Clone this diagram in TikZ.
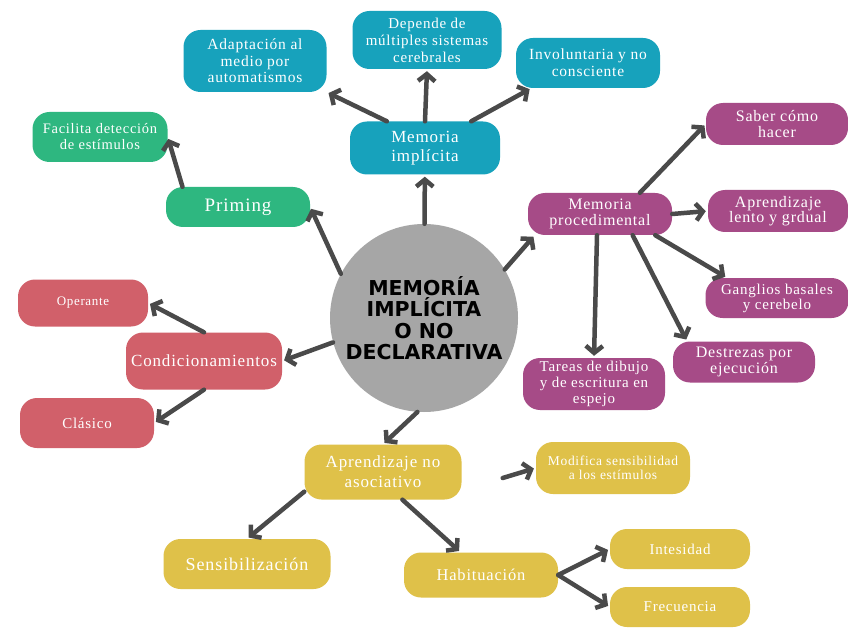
\documentclass[tikz,border=0pt]{standalone}
\usepackage{fontspec}
\setmainfont{Liberation Serif}[LetterSpace=5]
\newfontfamily\titulofont{DejaVu Sans}
\usetikzlibrary{arrows.meta}

\definecolor{cazul}{RGB}{23,162,188}
\definecolor{cmorado}{RGB}{166,75,135}
\definecolor{cverde}{RGB}{46,183,128}
\definecolor{crojo}{RGB}{209,96,106}
\definecolor{camarillo}{RGB}{223,193,73}
\definecolor{cgris}{RGB}{166,166,166}
\definecolor{cflecha}{RGB}{74,74,74}

\tikzset{
  caja/.style={rounded corners=17pt, align=center, text=white, inner sep=0pt},
  azul/.style={caja, fill=cazul},
  morado/.style={caja, fill=cmorado},
  verde/.style={caja, fill=cverde},
  rojo/.style={caja, fill=crojo},
  amarillo/.style={caja, fill=camarillo},
  flecha/.style={draw=cflecha, line width=4.5pt, line cap=round, line join=round,
    -{Straight Barb[length=7pt,width=17pt]}, shorten >=2pt},
}
\newcommand{\tam}[2]{\fontsize{#1}{#2}\selectfont}

\begin{document}
\begin{tikzpicture}[x=1pt,y=-1pt]
\useasboundingbox[fill=white] (0,0) rectangle (848,636);

\node[circle, fill=cgris, minimum size=188pt, inner sep=0pt, align=center,
  font=\titulofont\bfseries\tam{20.5}{21.5}] (centro) at (424,318)
  {MEMORÍA\\IMPLÍCITA\\O NO\\DECLARATIVA};

\node[azul, minimum width=150pt, minimum height=53pt, font=\tam{17}{19}] (impl) at (425,148) {Memoria\\implícita};
\node[azul, minimum width=143pt, minimum height=62pt, font=\tam{15.5}{16.5}] (adapt) at (255,61) {Adaptación al\\medio por\\automatismos};
\node[azul, minimum width=149pt, minimum height=58pt, font=\tam{15}{17}] (depende) at (427,40) {Depende de\\múltiples sistemas\\cerebrales};
\node[azul, minimum width=144pt, minimum height=50pt, font=\tam{15.5}{17}] (involun) at (588,63) {Involuntaria y no\\consciente};

\node[morado, minimum width=144pt, minimum height=42pt, font=\tam{16}{16}] (proced) at (600,214) {Memoria\\procedimental};
\node[morado, minimum width=142pt, minimum height=42pt, font=\tam{16}{16}] (saber) at (777,124) {Saber cómo\\hacer};
\node[morado, minimum width=140pt, minimum height=42pt, font=\tam{16}{15.5}] (lento) at (778,211) {Aprendizaje\\lento y grdual};
\node[morado, minimum width=143pt, minimum height=40pt, font=\tam{15}{15}] (ganglios) at (777,298) {Ganglios basales\\y cerebelo};
\node[morado, minimum width=142pt, minimum height=41pt, font=\tam{16}{16}] (destrezas) at (744,362) {Destrezas por\\ejecución};
\node[morado, minimum width=142pt, minimum height=52pt, font=\tam{15}{16}] (tareas) at (594,384) {Tareas de dibujo\\y de escritura en\\espejo};

\node[amarillo, minimum width=157pt, minimum height=55pt, font=\tam{17}{20}] (noasoc) at (383,472) {Aprendizaje no\\asociativo};
\node[amarillo, minimum width=154pt, minimum height=52pt, font=\tam{13.5}{14.5}] (modifica) at (613,468) {Modifica sensibilidad\\a los estímulos};
\node[amarillo, minimum width=167pt, minimum height=50pt, font=\tam{18}{18}] (sensib) at (247,564) {Sensibilización};
\node[amarillo, minimum width=154pt, minimum height=45pt, font=\tam{16.5}{16.5}] (habit) at (481,575) {Habituación};
\node[amarillo, minimum width=140pt, minimum height=40pt, font=\tam{15}{15}] (intens) at (680,549) {Intesidad};
\node[amarillo, minimum width=140pt, minimum height=40pt, font=\tam{15}{15}] (frec) at (680,607) {Frecuencia};

\node[verde, minimum width=144pt, minimum height=40pt, font=\tam{19}{19}] (priming) at (238,207) {Priming};
\node[verde, minimum width=135pt, minimum height=50pt, font=\tam{14.5}{16}] (facilita) at (100,137) {Facilita detección\\de estímulos};

\node[rojo, minimum width=156pt, minimum height=57pt, font=\tam{17}{17}] (condic) at (204,361) {Condicionamientos};
\node[rojo, minimum width=130pt, minimum height=47pt, font=\tam{13}{13}] (operante) at (83,303) {Operante};
\node[rojo, minimum width=134pt, minimum height=50pt, font=\tam{15}{15}] (clasico) at (87,423) {Clásico};

\draw[flecha] (centro) -- (impl);
\draw[flecha] (impl.145) -- (adapt.south east);
\draw[flecha] (impl.north) -- (depende.south);
\draw[flecha] (impl.30) -- (involun.204);

\draw[flecha] (centro.31) -- (proced.198);
\draw[flecha] (proced.28) -- (saber.west);
\draw[flecha] (proced.east) -- (lento.west);
\draw[flecha] (proced.-21) -- (ganglios.158);
\draw[flecha] (proced.-33) -- (destrezas.160);
\draw[flecha] ([xshift=-3pt]proced.south) -- (tareas.north);

\draw[flecha] (centro.-94) -- (noasoc.north);
\draw[flecha] ([xshift=41pt,yshift=-6pt]noasoc.east) -- (modifica.west);
\draw[flecha] (noasoc.194) -- (sensib.north);
\draw[flecha] (noasoc.-55) -- (habit.132);
\draw[flecha] (habit.east) -- (intens.west);
\draw[flecha] (habit.east) -- (frec.west);

\draw[flecha] (centro.152) -- (priming.east);
\draw[flecha] (priming.160) -- (facilita.east);

\draw[flecha] (centro.195) -- (condic.east);
\draw[flecha] (condic.north) -- (operante.east);
\draw[flecha] (condic.south) -- (clasico.east);
\end{tikzpicture}
\end{document}
